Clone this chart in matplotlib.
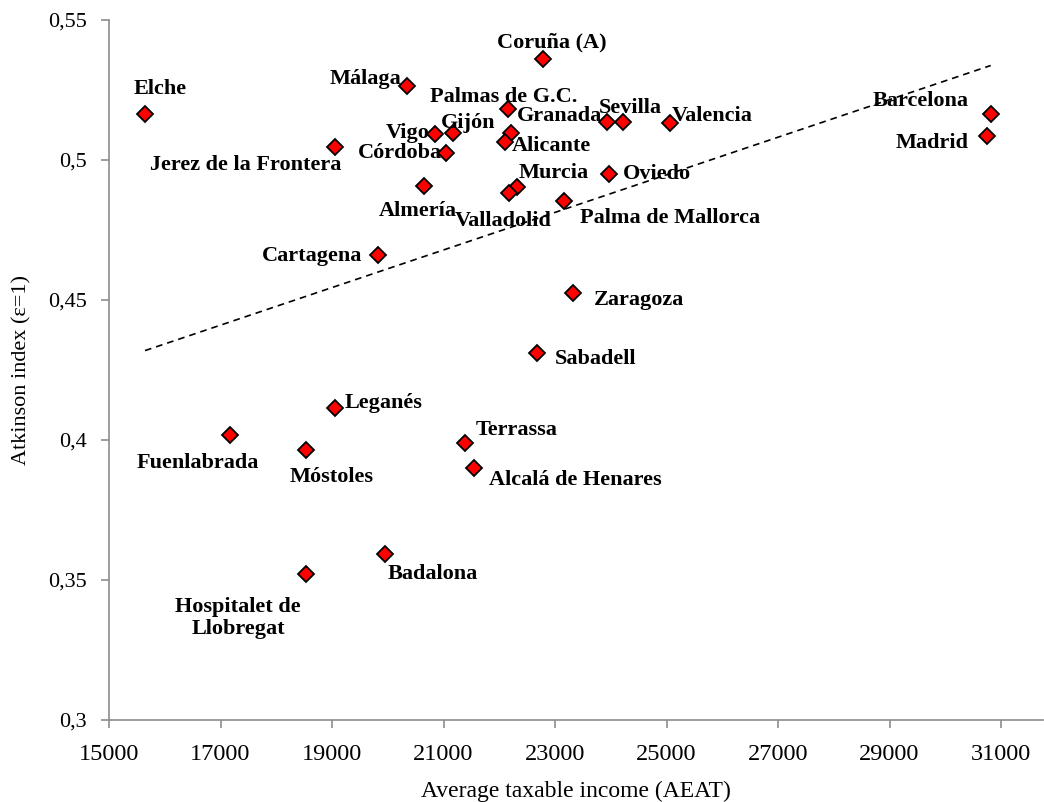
import numpy as np
import matplotlib.pyplot as plt

# Cities, average taxable income (AEAT) and Atkinson index (eps=1)
cities = ['Elche', 'Jerez de la Frontera', 'Málaga', 'Vigo', 'Gijón', 'Córdoba',
          'Almería', 'Cartagena', 'Coruña (A)', 'Palmas de G.C.', '', 'Alicante',
          'Granada', 'Sevilla', 'Valencia', 'Barcelona', 'Madrid', 'Murcia',
          'Valladolid', 'Oviedo', 'Palma de Mallorca', 'Zaragoza', 'Sabadell',
          'Leganés', 'Fuenlabrada', 'Móstoles', 'Terrassa', 'Alcalá de Henares',
          'Badalona', 'Hospitalet de\nLlobregat']
income = [15646, 19059, 20351, 20853, 21176, 21045,
          20645, 19830, 22790, 22162, 22205, 22103,
          23927, 24214, 25066, 30815, 30747, 22324,
          22180, 23974, 23161, 23329, 22672,
          19059, 17170, 18534, 21380, 21547,
          19951, 18534]
atkinson = [0.5164, 0.5046, 0.5263, 0.5093, 0.5096, 0.5025,
            0.4908, 0.4661, 0.5361, 0.5181, 0.5098, 0.5063,
            0.5135, 0.5137, 0.5131, 0.5164, 0.5086, 0.4902,
            0.4881, 0.4950, 0.4855, 0.4524, 0.4312,
            0.4115, 0.4017, 0.3963, 0.3990, 0.3900,
            0.3593, 0.3521]

# label offsets from the marker (pixels, right / down)
offsets = [(15, -25), (-90, 18), (-42, -7), (-28, -1), (15, -10), (-46, 0),
           (-6, 25), (-66, 1), (9, -16), (-5, -12), (0, 0), (46, 4),
           (-47, -6), (8, -14), (42, -7), (-70, -13), (-55, 7), (36, -14),
           (-6, 28), (48, 0), (106, 17), (66, 7), (59, 6),
           (48, -5), (-32, 28), (26, 27), (52, -13), (101, 12),
           (48, 20), (-68, 44)]

x = np.array(income)
y = np.array(atkinson)

fig = plt.figure(figsize=(10.44, 8.02), dpi=100)
ax = fig.add_axes([109 / 1044, 1 - 720 / 802, 934 / 1044, 700 / 802])

# linear trend line over the data range
b1, b0 = np.polyfit(x, y, 1)
xt = np.array([x.min(), x.max()])
ax.plot(xt, b0 + b1 * xt, color='black', linestyle=(0, (4, 3)), linewidth=1.2, zorder=2)

ax.plot(x, y, linestyle='none', marker='D', markersize=8.5, markerfacecolor='#ff0000',
        markeredgecolor='black', markeredgewidth=1.3, zorder=3)

for name, xi, yi, (dx, dy) in zip(cities, x, y, offsets):
    if name:
        ax.annotate(name, (xi, yi), xytext=(dx, -dy), textcoords='offset pixels',
                    ha='center', va='center', fontsize=16, fontweight='bold',
                    family='Liberation Serif', linespacing=1.1, zorder=4)

ax.set_xlim(15000, 31753)
ax.set_ylim(0.3, 0.55)
ax.set_xticks(np.arange(15000, 31001, 2000))
ax.set_yticks([0.3, 0.35, 0.4, 0.45, 0.5, 0.55])
ax.set_yticklabels(['0,3', '0,35', '0,4', '0,45', '0,5', '0,55'])

for side in ['top', 'right']:
    ax.spines[side].set_visible(False)
for side in ['left', 'bottom']:
    ax.spines[side].set_color('#8c8c8c')
    ax.spines[side].set_linewidth(1.2)
ax.tick_params(direction='out', length=6, width=1.2, color='#8c8c8c')
ax.tick_params(axis='x', pad=11, labelsize=17.5)
ax.tick_params(axis='y', pad=10, labelsize=16)
for lab in ax.get_xticklabels() + ax.get_yticklabels():
    lab.set_family('Liberation Serif')

ax.set_xlabel('Average taxable income (AEAT)', family='Liberation Serif', fontsize=17, labelpad=12)
ax.set_ylabel('Atkinson index (\u03b5=1)', family='Liberation Serif', fontsize=16, labelpad=12)

fig.savefig('out.png', dpi=100)
